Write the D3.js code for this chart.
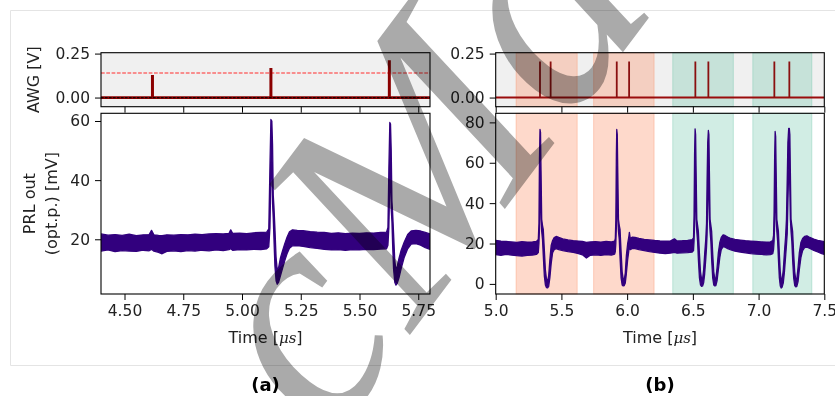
<!DOCTYPE html>
<html><head><meta charset="utf-8">
<script src="https://cdn.jsdelivr.net/npm/d3@7"></script>
<style>
body{margin:0;background:#fff;}
svg{display:block;}
text{font-family:"DejaVu Sans",sans-serif;}
</style>
</head><body>
<svg id="chart" width="835" height="396"></svg>
<script>
// ---------------- DATA ----------------
// Panel (a): AWG input pulses
const aPulseTimes   = [4.619, 5.123, 5.627];
const aPulseHeights = [0.128, 0.168, 0.212];
const aThreshold    = 0.14;
// Panel (a): PRL output trace, lower / upper envelope of the noisy trace
const aTime = [4.400,4.430,4.460,4.490,4.520,4.550,4.580,4.605,4.615,4.625,4.645,4.660,4.680,4.710,4.740,4.770,4.800,4.830,4.860,4.890,4.920,4.945,4.952,4.960,4.990,5.020,5.050,5.080,5.105,5.114,5.119,5.123,5.127,5.130,5.133,5.136,5.140,5.145,5.150,5.156,5.163,5.172,5.182,5.192,5.202,5.215,5.235,5.260,5.290,5.320,5.350,5.380,5.410,5.440,5.470,5.500,5.530,5.560,5.590,5.615,5.621,5.625,5.629,5.632,5.635,5.638,5.641,5.645,5.650,5.655,5.661,5.668,5.677,5.690,5.705,5.720,5.740,5.760,5.780,5.800];
const aLow  = [16.0,16.4,15.8,16.2,16.0,15.9,16.3,16.1,16.6,16.0,15.6,15.1,15.9,16.1,15.8,16.2,16.0,16.3,16.1,16.4,16.2,16.5,16.8,16.3,16.5,16.4,16.6,16.5,16.8,17.5,24.0,42.0,46.0,32.0,27.0,20.0,11.0,6.0,4.8,5.5,7.5,10.0,12.8,15.2,17.0,17.8,17.9,17.6,17.2,16.9,16.6,16.4,16.5,16.3,16.5,16.4,16.6,16.5,16.7,16.8,18.0,24.0,40.0,42.0,30.0,26.0,18.0,10.0,5.5,4.5,5.2,7.0,10.0,13.8,16.8,18.4,18.5,18.0,17.2,16.6];
const aHigh = [21.8,21.4,21.6,21.3,21.7,21.2,21.5,21.6,23.0,21.5,21.3,21.2,21.5,21.4,21.6,21.5,21.7,21.6,21.8,21.9,21.8,22.0,23.2,22.0,22.1,21.9,22.2,22.3,22.4,23.5,45.0,60.5,60.0,52.0,35.0,31.0,24.0,14.0,9.5,10.5,13.5,16.0,18.5,20.8,22.5,23.2,23.0,22.9,22.6,22.4,22.3,22.0,22.2,21.9,22.1,22.0,22.2,22.1,22.3,22.4,24.0,44.0,59.5,59.0,50.0,33.0,29.0,22.0,13.0,9.5,11.0,13.5,16.2,19.0,21.6,22.8,23.0,22.8,22.3,21.8];

// Panel (b): AWG input pulses (pairs)
const bPulseTimes   = [5.337, 5.418, 5.921, 6.015, 6.519, 6.618, 7.120, 7.234];
const bPulseHeights = [0.205, 0.205, 0.205, 0.205, 0.205, 0.205, 0.205, 0.205];
// Panel (b): highlighted windows
const bBandStart = [5.155, 5.745, 6.347, 6.956];
const bBandEnd   = [5.620, 6.205, 6.808, 7.405];
const bBandKind  = ["single", "single", "double", "double"];
// Panel (b): PRL output trace envelope
const bTime = [5.000,5.040,5.080,5.120,5.160,5.200,5.240,5.280,5.310,5.324,5.329,5.333,5.337,5.341,5.345,5.350,5.356,5.362,5.370,5.378,5.386,5.395,5.403,5.412,5.422,5.433,5.445,5.460,5.480,5.510,5.550,5.590,5.630,5.660,5.690,5.720,5.760,5.800,5.840,5.880,5.905,5.910,5.914,5.918,5.921,5.925,5.929,5.934,5.940,5.946,5.954,5.962,5.970,5.978,5.986,5.994,6.004,6.012,6.017,6.024,6.040,6.060,6.090,6.130,6.170,6.210,6.250,6.290,6.330,6.360,6.380,6.420,6.460,6.495,6.505,6.509,6.513,6.517,6.521,6.525,6.530,6.536,6.542,6.550,6.558,6.566,6.574,6.582,6.590,6.598,6.604,6.608,6.613,6.618,6.622,6.626,6.631,6.637,6.643,6.651,6.659,6.667,6.675,6.684,6.694,6.705,6.716,6.730,6.745,6.765,6.790,6.820,6.860,6.900,6.940,6.980,7.020,7.060,7.090,7.108,7.114,7.118,7.122,7.126,7.130,7.134,7.139,7.145,7.151,7.158,7.165,7.172,7.180,7.188,7.197,7.205,7.212,7.218,7.223,7.229,7.234,7.238,7.242,7.247,7.253,7.259,7.267,7.275,7.283,7.291,7.300,7.310,7.322,7.335,7.350,7.368,7.390,7.420,7.450,7.480,7.500];
const bLow  = [14.5,14.2,14.6,14.3,14.0,13.8,14.1,14.3,14.6,15.5,20.0,27.0,58.0,46.0,32.0,26.0,22.0,14.0,4.0,-0.5,-1.8,-2.0,-1.2,3.0,10.0,15.5,17.0,17.5,17.0,16.5,16.0,15.6,15.0,14.4,12.8,14.2,14.4,14.2,14.5,14.3,14.8,16.0,20.0,28.0,58.0,46.0,32.0,26.0,22.0,13.0,3.0,-0.5,-1.0,-0.8,0.5,5.0,12.0,16.0,19.0,17.0,17.6,17.5,17.0,16.5,16.0,15.6,15.2,15.0,15.3,15.6,15.2,15.4,15.5,15.8,16.5,21.0,29.0,58.0,46.0,32.0,26.0,21.0,12.0,3.0,-0.5,-1.2,-1.0,0.5,5.0,12.0,18.0,24.0,40.0,58.0,46.0,32.0,26.0,21.0,12.0,3.0,-0.5,-1.0,-0.8,1.5,7.0,13.0,17.0,18.5,18.2,17.5,16.8,16.2,15.8,15.4,15.0,14.8,14.6,14.4,14.5,15.0,17.0,21.0,29.0,56.0,45.0,32.0,26.0,21.0,12.0,3.0,-1.0,-2.0,-1.5,0.5,6.0,13.0,19.0,25.0,40.0,56.0,58.0,46.0,32.0,26.0,21.0,12.0,3.0,-0.8,-1.5,-1.2,1.0,7.0,13.0,16.5,18.0,18.2,17.6,16.6,15.8,15.0,14.6];
const bHigh = [21.5,21.2,21.0,20.8,20.6,20.9,20.7,20.8,21.0,22.0,30.0,62.0,76.5,75.0,56.0,32.0,29.0,27.0,17.0,7.0,2.5,1.5,4.0,12.0,19.0,21.5,23.0,23.5,23.0,22.3,21.8,21.4,21.2,21.0,20.6,20.8,20.9,20.7,21.0,20.8,21.2,22.5,32.0,64.0,76.5,74.0,55.0,32.0,29.0,27.0,16.0,6.0,2.5,2.0,5.5,14.0,20.0,23.0,25.5,22.5,23.2,23.0,22.5,22.0,21.8,21.5,21.3,21.2,21.3,22.3,21.3,21.4,21.6,21.9,22.8,34.0,64.0,76.8,74.0,55.0,32.0,29.0,26.0,15.0,6.0,2.5,2.5,7.0,15.0,22.0,30.0,50.0,70.0,76.0,74.0,55.0,32.0,29.0,26.0,15.0,6.0,2.5,2.5,8.0,15.5,20.5,23.0,24.3,24.0,23.2,22.5,22.0,21.7,21.4,21.2,21.0,20.8,20.7,20.8,21.5,24.0,36.0,62.0,75.5,73.0,55.0,32.0,29.0,26.0,15.0,6.0,2.0,2.5,7.0,16.0,23.0,32.0,52.0,70.0,77.0,77.0,74.0,55.0,32.0,29.0,26.0,15.0,6.0,2.0,2.5,8.0,15.5,20.5,22.5,23.5,23.8,23.0,22.2,21.6,21.2,20.9];

// Axis domains and ticks
const aXDomain = [4.4, 5.8];
const bXDomain = [5.0, 7.5];
const awgDomain = [-0.052, 0.255];
const aPrlDomain = [1.5, 62.6];
const bPrlDomain = [-5.0, 84.5];
const aXTicks = [4.50, 4.75, 5.00, 5.25, 5.50, 5.75];
const bXTicks = [5.0, 5.5, 6.0, 6.5, 7.0, 7.5];
const awgTicks = [0.00, 0.25];
const aPrlTicks = [20, 40, 60];
const bPrlTicks = [0, 20, 40, 60, 80];
const watermarkText = "cMa";

// ---------------- DRAWING ----------------
const svg = d3.select("#chart");
const TRACE = "#32007e";
const INK = "#222";
const FS = 15.5;

svg.append("path").attr("d","M835,10.5H10.5V365.5H835").attr("fill","none").attr("stroke","#e4e4e4").attr("stroke-width",1);

const L = { awgTop: 52.7, awgBot: 106.7, prlTop: 113.3, prlBot: 294 };
const panels = [
  {id:"a", left:101, right:430, xDom:aXDomain, xTicks:aXTicks, xFmt:d3.format(".2f"),
   prlDom:aPrlDomain, prlTicks:aPrlTicks, t:aTime, lo:aLow, hi:aHigh,
   pT:aPulseTimes, pH:aPulseHeights},
  {id:"b", left:495.7, right:824.3, xDom:bXDomain, xTicks:bXTicks, xFmt:d3.format(".1f"),
   prlDom:bPrlDomain, prlTicks:bPrlTicks, t:bTime, lo:bLow, hi:bHigh,
   pT:bPulseTimes, pH:bPulseHeights}
];

function styleAxis(g){
  g.select(".domain").remove();
  g.selectAll(".tick line").attr("stroke","#000").attr("stroke-width",1);
  g.selectAll(".tick text").style("fill",INK).style("font-size",FS+"px").style("font-family","DejaVu Sans");
}

panels.forEach(p => {
  const x = d3.scaleLinear().domain(p.xDom).range([p.left, p.right]);
  const yA = d3.scaleLinear().domain(awgDomain).range([L.awgBot, L.awgTop]);
  const yP = d3.scaleLinear().domain(p.prlDom).range([L.prlBot, L.prlTop]);

  const defs = svg.append("defs");
  defs.append("clipPath").attr("id","clipA"+p.id).append("rect")
    .attr("x",p.left).attr("y",L.awgTop).attr("width",p.right-p.left).attr("height",L.awgBot-L.awgTop);
  defs.append("clipPath").attr("id","clipP"+p.id).append("rect")
    .attr("x",p.left).attr("y",L.prlTop).attr("width",p.right-p.left).attr("height",L.prlBot-L.prlTop);

  svg.append("rect").attr("x",p.left).attr("y",L.awgTop).attr("width",p.right-p.left)
    .attr("height",L.awgBot-L.awgTop).attr("fill","#f0f0f0");

  if (p.id === "b") {
    const bands = bBandStart.map((s,i)=>({s, e:bBandEnd[i], k:bBandKind[i]}));
    [[L.awgTop,L.awgBot],[L.prlTop,L.prlBot]].forEach(([t,b])=>{
      svg.append("g").selectAll("rect").data(bands).join("rect")
        .attr("x",d=>x(d.s)).attr("width",d=>x(d.e)-x(d.s))
        .attr("y",t).attr("height",b-t)
        .attr("fill",d=>d.k==="single"?"#fc8d62":"#66c2a5")
        .attr("fill-opacity",d=>d.k==="single"?0.33:0.3)
        .attr("stroke",d=>d.k==="single"?"#fc8d62":"#66c2a5")
        .attr("stroke-opacity",0.35).attr("stroke-width",1);
    });
  }

  const ga = svg.append("g").attr("clip-path","url(#clipA"+p.id+")");
  if (p.id === "a") {
    ga.append("line").attr("x1",p.left).attr("x2",p.right)
      .attr("y1",yA(aThreshold)).attr("y2",yA(aThreshold))
      .attr("stroke","#ff2a2a").attr("stroke-width",1.1).attr("stroke-dasharray","3.7,1.6");
    ga.append("line").attr("x1",p.left).attr("x2",p.right).attr("y1",yA(0)).attr("y2",yA(0))
      .attr("stroke","#8b0000").attr("stroke-width",2.8);
    ga.selectAll("line.p").data(p.pT).join("line").attr("class","p")
      .attr("x1",d=>x(d)).attr("x2",d=>x(d)).attr("y1",yA(0)).attr("y2",(d,i)=>yA(p.pH[i]))
      .attr("stroke","#8b0000").attr("stroke-width",3);
    ga.append("line").attr("x1",p.left).attr("x2",p.right).attr("y1",yA(0)).attr("y2",yA(0))
      .attr("stroke","#000").attr("stroke-opacity",0.8).attr("stroke-width",1.2).attr("stroke-dasharray","2.6,1.4");
  } else {
    ga.append("line").attr("x1",p.left).attr("x2",p.right).attr("y1",yA(0)).attr("y2",yA(0))
      .attr("stroke","#9a0c0c").attr("stroke-width",2);
    ga.selectAll("line.p").data(p.pT).join("line").attr("class","p")
      .attr("x1",d=>x(d)).attr("x2",d=>x(d)).attr("y1",yA(0)).attr("y2",(d,i)=>yA(p.pH[i]))
      .attr("stroke","#8a1010").attr("stroke-width",1.8);
  }

  const pts = p.t.map((t,i)=>({t, lo:p.lo[i], hi:p.hi[i]}));
  const area = d3.area().x(d=>x(d.t)).y0(d=>yP(d.lo)).y1(d=>yP(d.hi));
  svg.append("g").attr("clip-path","url(#clipP"+p.id+")").append("path")
    .datum(pts).attr("d",area).attr("fill",TRACE).attr("stroke",TRACE)
    .attr("stroke-width",1.3).attr("stroke-linejoin","round");

  [[L.awgTop,L.awgBot],[L.prlTop,L.prlBot]].forEach(([t,b])=>{
    svg.append("rect").attr("x",p.left).attr("y",t).attr("width",p.right-p.left).attr("height",b-t)
      .attr("fill","none").attr("stroke","#000").attr("stroke-width",1.1);
  });

  svg.append("g").attr("transform",`translate(0,${L.awgBot})`)
    .call(d3.axisBottom(x).tickValues(p.xTicks).tickFormat("").tickSize(6).tickSizeOuter(0)).call(styleAxis);
  svg.append("g").attr("transform",`translate(0,${L.prlBot})`)
    .call(d3.axisBottom(x).tickValues(p.xTicks).tickFormat(p.xFmt).tickSize(6).tickPadding(5).tickSizeOuter(0)).call(styleAxis);
  svg.append("g").attr("transform",`translate(${p.left},0)`)
    .call(d3.axisLeft(yA).tickValues(awgTicks).tickFormat(d3.format(".2f")).tickSize(6).tickPadding(5).tickSizeOuter(0)).call(styleAxis);
  svg.append("g").attr("transform",`translate(${p.left},0)`)
    .call(d3.axisLeft(yP).tickValues(p.prlTicks).tickFormat(d3.format("d")).tickSize(6).tickPadding(5).tickSizeOuter(0)).call(styleAxis);

  const cx = (p.left+p.right)/2;
  const xl = svg.append("text").attr("x",cx).attr("y",343).attr("text-anchor","middle")
    .style("font-size","16px").style("fill",INK);
  xl.append("tspan").text("Time [");
  xl.append("tspan").text("μs").style("font-family","'DejaVu Serif'").style("font-style","italic").style("font-size","15px");
  xl.append("tspan").text("]");

  svg.append("text").attr("x",cx).attr("y",391).attr("text-anchor","middle")
    .style("font-size","18px").style("font-weight","bold").style("fill","#000").text(`(${p.id})`);
});

svg.append("text").attr("transform",`translate(38.5,${(L.awgTop+L.awgBot)/2}) rotate(-90)`)
  .attr("text-anchor","middle").style("font-size","16px").style("fill",INK).text("AWG [V]");
svg.append("text").attr("transform",`translate(35,${(L.prlTop+L.prlBot)/2}) rotate(-90)`)
  .attr("text-anchor","middle").style("font-size","16px").style("fill",INK).text("PRL out");
svg.append("text").attr("transform",`translate(57,${(L.prlTop+L.prlBot)/2}) rotate(-90)`)
  .attr("text-anchor","middle").style("font-size","16px").style("fill",INK).text("(opt.p.) [mV]");

// watermark (semi-transparent, on top)
svg.append("text").attr("transform","translate(495,222) rotate(-53)")
  .attr("text-anchor","middle")
  .style("font-family","'Liberation Serif'").style("font-style","italic")
  .style("font-size","310px").style("fill","#aaaaaa").style("mix-blend-mode","multiply")
  .text(watermarkText);
</script>
</body></html>
